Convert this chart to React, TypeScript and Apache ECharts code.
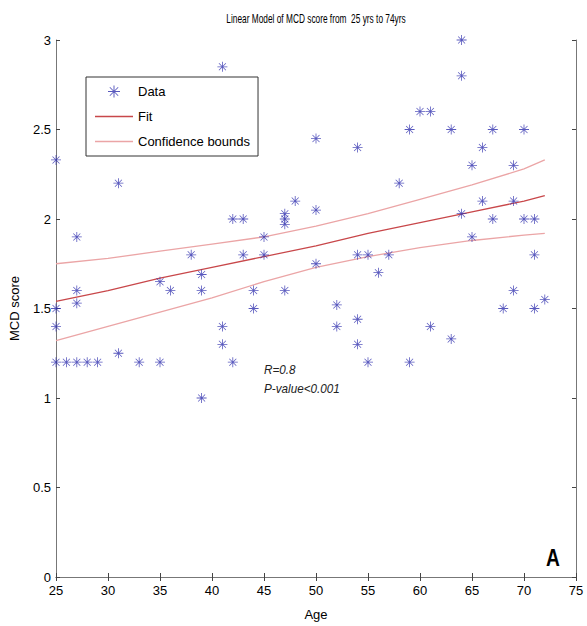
import React, { useEffect, useRef } from "react";
import * as echarts from "echarts";

const titleText = "Linear Model of MCD score from  25 yrs to 74yrs";
const xName = "Age";
const yName = "MCD score";

const ages = [
  25, 25, 25, 25, 26, 27, 28, 29, 27, 27, 27, 31, 31, 33, 35, 35, 36, 38, 39, 39,
  39, 41, 41, 41, 42, 43, 42, 43, 44, 44, 45, 45, 47, 47, 47, 47, 48, 50, 50, 50,
  52, 52, 54, 54, 54, 54, 55, 55, 56, 57, 58, 59, 59, 60, 61, 61, 63, 63, 64, 64,
  64, 65, 65, 66, 66, 67, 67, 68, 69, 69, 69, 70, 70, 71, 71, 71, 72,
];
const scores = [
  2.33, 1.5, 1.4, 1.2, 1.2, 1.2, 1.2, 1.2, 1.9, 1.6, 1.53, 2.2, 1.25, 1.2, 1.2, 1.65, 1.6, 1.8, 1.69, 1.6,
  1.0, 2.85, 1.4, 1.3, 2.0, 2.0, 1.2, 1.8, 1.6, 1.5, 1.9, 1.8, 2.03, 2.0, 1.97, 1.6, 2.1, 2.45, 2.05, 1.75,
  1.52, 1.4, 2.4, 1.8, 1.44, 1.3, 1.8, 1.2, 1.7, 1.8, 2.2, 2.5, 1.2, 2.6, 2.6, 1.4, 2.5, 1.33, 3.0, 2.8,
  2.03, 2.3, 1.9, 2.4, 2.1, 2.5, 2.0, 1.5, 2.3, 2.1, 1.6, 2.5, 2.0, 2.0, 1.8, 1.5, 1.55,
];

const lineAges = [25, 30, 35, 40, 45, 50, 55, 60, 65, 70, 72];
const fitValues = [1.54, 1.6, 1.67, 1.73, 1.79, 1.85, 1.92, 1.98, 2.04, 2.1, 2.13];
const upperValues = [1.75, 1.78, 1.82, 1.86, 1.9, 1.96, 2.03, 2.11, 2.19, 2.28, 2.33];
const lowerValues = [1.32, 1.4, 1.48, 1.56, 1.65, 1.73, 1.79, 1.84, 1.88, 1.91, 1.92];

const xTicks = { min: 25, max: 75, interval: 5 };
const yTicks = { min: 0, max: 3, interval: 0.5 };

const statLines = ["R=0.8", "P-value<0.001"];
const panelLabel = "A";

const starPath =
  "path://M9.2,0L10.8,0L10.8,20L9.2,20Z M0,9.2L20,9.2L20,10.8L0,10.8Z M2.5,3.5L3.5,2.5L17.5,16.5L16.5,17.5Z M16.5,2.5L17.5,3.5L3.5,17.5L2.5,16.5Z";
const lineIcon = "path://M0,0L38,0L38,1.4L0,1.4Z";

const FONT = "'Liberation Sans', Arial, sans-serif";

export default function App() {
  const ref = useRef<HTMLDivElement>(null);
  useEffect(() => {
    if (!ref.current) return;
    const chart = echarts.init(ref.current, undefined, { renderer: "svg" });
    const axisLine = { show: true, lineStyle: { color: "#777", width: 1 } };
    const tick = { show: true, inside: true, length: 4, lineStyle: { color: "#444" } };
    chart.setOption({
      animation: false,
      backgroundColor: "#fff",
      grid: { left: 56, right: 11, top: 40, bottom: 49 },
      legend: {
        orient: "vertical",
        left: 86,
        top: 77,
        data: [
          { name: "Data", icon: starPath },
          { name: "Fit", icon: lineIcon },
          { name: "Confidence bounds", icon: lineIcon },
        ],
        itemWidth: 38,
        itemHeight: 12,
        itemGap: 12,
        padding: [8, 8, 8, 9],
        borderColor: "#333",
        borderWidth: 1,
        textStyle: { fontFamily: FONT, fontSize: 13, color: "#000" },
      },
      xAxis: [
        {
          type: "value",
          min: xTicks.min,
          max: xTicks.max,
          interval: xTicks.interval,
          name: xName,
          nameLocation: "middle",
          nameGap: 31,
          nameTextStyle: { fontFamily: FONT, fontSize: 13, color: "#000" },
          axisLine,
          axisTick: tick,
          axisLabel: { fontFamily: FONT, fontSize: 13, color: "#000", margin: 7 },
          splitLine: { show: false },
        },
        {
          type: "value",
          position: "top",
          min: xTicks.min,
          max: xTicks.max,
          interval: xTicks.interval,
          axisLine,
          axisTick: tick,
          axisLabel: { show: false },
          splitLine: { show: false },
        },
      ],
      yAxis: [
        {
          type: "value",
          min: yTicks.min,
          max: yTicks.max,
          interval: yTicks.interval,
          name: yName,
          nameLocation: "middle",
          nameGap: 35,
          nameTextStyle: { fontFamily: FONT, fontSize: 13, color: "#000" },
          axisLine,
          axisTick: tick,
          axisLabel: { fontFamily: FONT, fontSize: 13, color: "#000", margin: 5 },
          splitLine: { show: false },
        },
        {
          type: "value",
          position: "right",
          min: yTicks.min,
          max: yTicks.max,
          interval: yTicks.interval,
          axisLine,
          axisTick: tick,
          axisLabel: { show: false },
          splitLine: { show: false },
        },
      ],
      series: [
        {
          name: "Data",
          type: "scatter",
          symbol: starPath,
          symbolSize: 10,
          itemStyle: { color: "#2f2fae" },
          data: ages.map((a, i) => [a, scores[i]]),
          z: 3,
        },
        {
          name: "Fit",
          type: "line",
          symbol: "none",
          lineStyle: { color: "#c8474a", width: 1.3 },
          itemStyle: { color: "#c8474a" },
          data: lineAges.map((a, i) => [a, fitValues[i]]),
          z: 2,
        },
        {
          name: "Confidence bounds",
          type: "line",
          symbol: "none",
          lineStyle: { color: "#eba5a6", width: 1.3 },
          itemStyle: { color: "#eba5a6" },
          data: lineAges.map((a, i) => [a, upperValues[i]]),
          z: 2,
        },
        {
          name: "Confidence bounds",
          type: "line",
          symbol: "none",
          lineStyle: { color: "#eba5a6", width: 1.3 },
          itemStyle: { color: "#eba5a6" },
          data: lineAges.map((a, i) => [a, lowerValues[i]]),
          z: 2,
        },
      ],
      graphic: [
        {
          type: "text",
          x: 316,
          y: 18,
          scaleX: 0.64,
          style: {
            text: titleText,
            align: "center",
            verticalAlign: "middle",
            fontFamily: FONT,
            fontSize: 13,
            fill: "#000",
          },
        },
        {
          type: "text",
          x: 264,
          y: 370,
          scaleX: 0.9,
          style: { text: statLines[0], verticalAlign: "middle", fontFamily: FONT, fontSize: 13, fontStyle: "italic", fill: "#222" },
        },
        {
          type: "text",
          x: 264,
          y: 389,
          scaleX: 0.9,
          style: { text: statLines[1], verticalAlign: "middle", fontFamily: FONT, fontSize: 13, fontStyle: "italic", fill: "#222" },
        },
        {
          type: "text",
          x: 553,
          y: 558,
          scaleX: 0.8,
          style: {
            text: panelLabel,
            align: "center",
            verticalAlign: "middle",
            fontFamily: FONT,
            fontSize: 24,
            fontWeight: "bold",
            fill: "#000",
          },
        },
      ],
    });
    return () => chart.dispose();
  }, []);
  return (
    <div
      ref={ref}
      style={{ position: "fixed", left: 0, top: 0, width: 587, height: 626, background: "#fff" }}
    />
  );
}
